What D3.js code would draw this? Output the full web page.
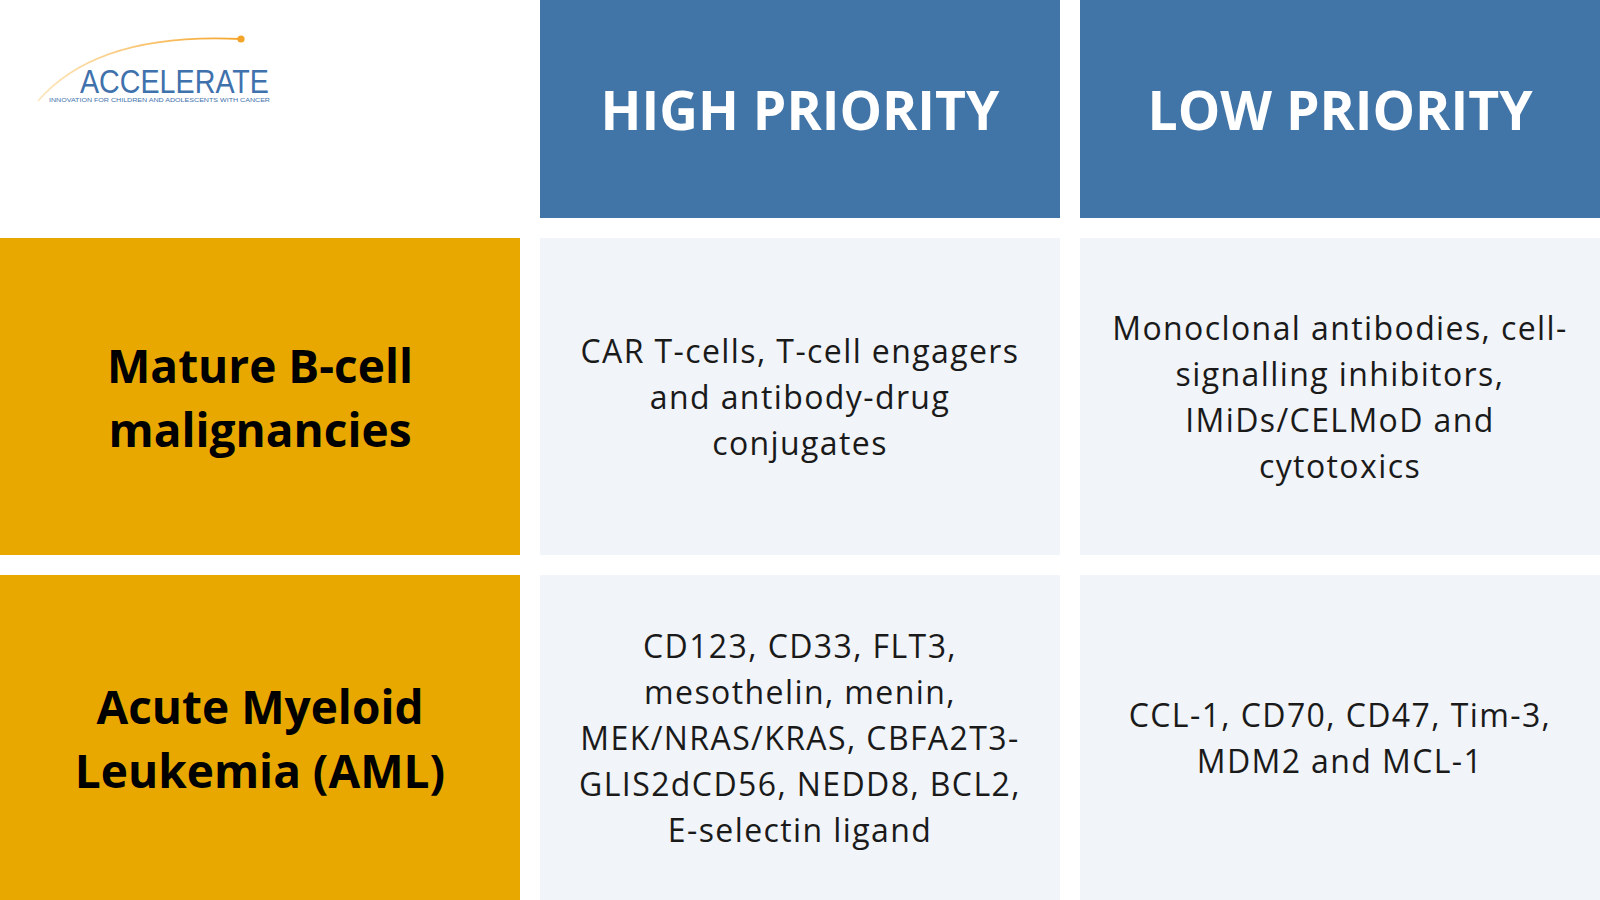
<!DOCTYPE html>
<html>
<head>
<meta charset="utf-8">
<script src="https://cdn.jsdelivr.net/npm/d3@7"></script>
<style>
    html, body { margin: 0; padding: 0; background: #fff; }
    svg { display: block; }
</style>
</head>
<body>
<svg id="chart"></svg>
<script>
// 列与行
var columns = ["", "HIGH PRIORITY", "LOW PRIORITY"];
var rowLabels = [
    ["Mature B-cell", "malignancies"],
    ["Acute Myeloid", "Leukemia (AML)"]
];
// 单元格文本（按参考图换行）
var highPriority = [
    ["CAR T-cells, T-cell engagers", "and antibody-drug", "conjugates"],
    ["CD123, CD33, FLT3,", "mesothelin, menin,", "MEK/NRAS/KRAS, CBFA2T3-", "GLIS2dCD56, NEDD8, BCL2,", "E-selectin ligand"]
];
var lowPriority = [
    ["Monoclonal antibodies, cell-", "signalling inhibitors,", "IMiDs/CELMoD and", "cytotoxics"],
    ["CCL-1, CD70, CD47, Tim-3,", "MDM2 and MCL-1"]
];

var cfg = {
    "width": 1600,
    "height": 900,
    "gap": 20,
    "headerHeight": 218,
    "rowHeight": 317,
    "colors": {
        "header": "#4174a7",
        "label": "#e9a800",
        "cell": "#f1f4f8",
        "text": "#1a1a1a"
    },
    "font": "'Open Sans', 'Noto Sans', sans-serif"
};

var svg = d3.select("#chart")
    .attr("width", cfg.width)
    .attr("height", cfg.height);

// 列比例尺
var x = d3.scaleBand()
    .domain(d3.range(columns.length))
    .range([0, cfg.width])
    .paddingInner(cfg.gap / (cfg.width / columns.length + cfg.gap / columns.length));

// 行比例尺（表体）
var bodyTop = cfg.headerHeight + cfg.gap;
var y = d3.scaleBand()
    .domain(d3.range(rowLabels.length))
    .range([bodyTop, bodyTop + rowLabels.length * cfg.rowHeight + (rowLabels.length - 1) * cfg.gap])
    .paddingInner(cfg.gap / (cfg.rowHeight + cfg.gap));

// 最后一行延伸到画布底部
var rowH = function (i) {
    return i === rowLabels.length - 1 ? cfg.height - y(i) : y.bandwidth();
};

/**
 * 多行居中文本
 */
var multiLine = function (g, lines, cx, cy, size, lh, weight, fill, spacing) {
    var t = g.append("text")
        .attr("x", cx)
        .attr("y", cy)
        .attr("text-anchor", "middle")
        .style("font-family", cfg.font)
        .style("font-size", size + "px")
        .style("font-weight", weight)
        .style("letter-spacing", (spacing || 0) + "px")
        .attr("fill", fill);
    var offset = -(lines.length - 1) / 2 * lh;
    t.selectAll("tspan")
        .data(lines)
        .enter()
        .append("tspan")
        .attr("x", cx)
        .attr("y", function (d, i) {
            return cy + offset + i * lh;
        })
        .attr("dominant-baseline", "central")
        .text(function (d) { return d; });
};

// 表头
var header = svg.append("g").attr("class", "header");
header.selectAll("rect")
    .data(columns.slice(1))
    .enter()
    .append("rect")
    .attr("x", function (d, i) { return x(i + 1); })
    .attr("y", 0)
    .attr("width", x.bandwidth())
    .attr("height", cfg.headerHeight)
    .attr("fill", cfg.colors.header);
columns.slice(1).forEach(function (c, i) {
    multiLine(header, [c], x(i + 1) + x.bandwidth() / 2, cfg.headerHeight / 2, 53.5, 0, 700, "#fff");
});

// 表体
var body = svg.append("g").attr("class", "body");
rowLabels.forEach(function (label, r) {
    var cy = y(r) + rowH(r) / 2;
    body.append("rect")
        .attr("x", x(0))
        .attr("y", y(r))
        .attr("width", x.bandwidth())
        .attr("height", rowH(r))
        .attr("fill", cfg.colors.label);
    multiLine(body, label, x(0) + x.bandwidth() / 2, cy, 46, 64, 700, "#000");

    [highPriority[r], lowPriority[r]].forEach(function (lines, c) {
        body.append("rect")
            .attr("x", x(c + 1))
            .attr("y", y(r))
            .attr("width", x.bandwidth())
            .attr("height", rowH(r))
            .attr("fill", cfg.colors.cell);
        multiLine(body, lines, x(c + 1) + x.bandwidth() / 2, cy, 32, 46, 400, cfg.colors.text, 1.4);
    });
});

// 标志
var logo = svg.append("g").attr("class", "logo");
var defs = svg.append("defs");
var grad = defs.append("linearGradient")
    .attr("id", "arc-gradient")
    .attr("x1", "0%").attr("y1", "0%")
    .attr("x2", "100%").attr("y2", "0%");
grad.append("stop").attr("offset", "0%").style("stop-color", "#fde7bf");
grad.append("stop").attr("offset", "100%").style("stop-color", "#f5a42a");
logo.append("path")
    .attr("d", "M38,101 C75,58 140,34 241,39")
    .attr("fill", "none")
    .attr("stroke", "url(#arc-gradient)")
    .attr("stroke-width", 1.8);
logo.append("circle")
    .attr("cx", 241).attr("cy", 39).attr("r", 3.6)
    .attr("fill", "#f5a42a");
logo.append("text")
    .attr("x", 80).attr("y", 93)
    .attr("textLength", 189)
    .attr("lengthAdjust", "spacingAndGlyphs")
    .style("font-family", "'Liberation Sans', Arial, sans-serif")
    .style("font-size", "33px")
    .attr("fill", "#3f72ad")
    .text("ACCELERATE");
logo.append("text")
    .attr("x", 49).attr("y", 102)
    .attr("textLength", 221)
    .attr("lengthAdjust", "spacingAndGlyphs")
    .style("font-family", "'Liberation Sans', Arial, sans-serif")
    .style("font-size", "5px")
    .attr("fill", "#3f72ad")
    .text("INNOVATION FOR CHILDREN AND ADOLESCENTS WITH CANCER");
</script>
</body>
</html>
